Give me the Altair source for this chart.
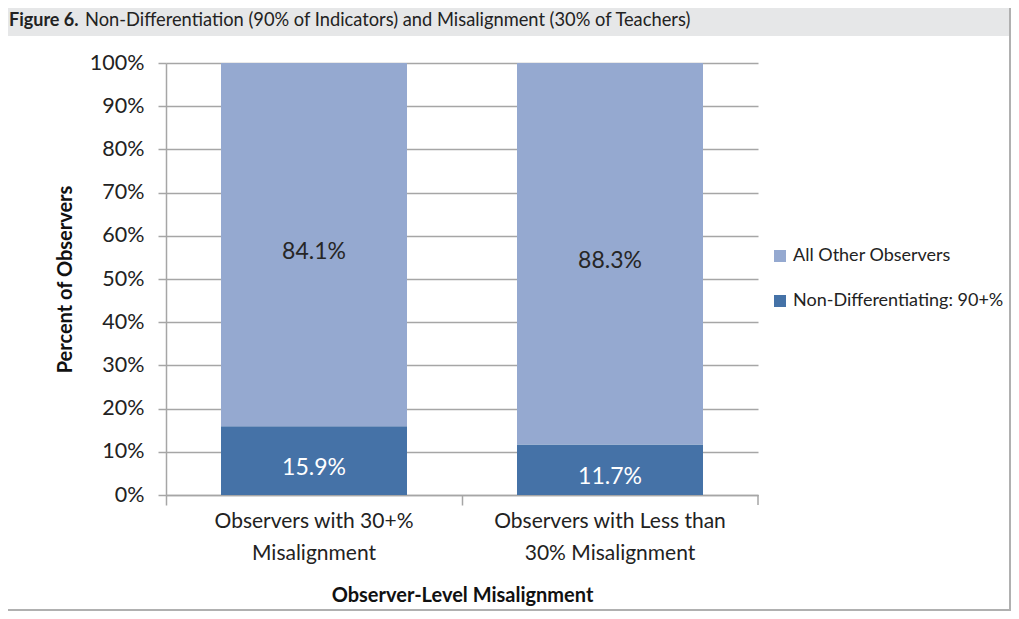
import altair as alt
import pandas as pd

categories = ["Observers with 30+%\nMisalignment", "Observers with Less than\n30% Misalignment"]
series = ["All Other Observers", "Non-Differentiating: 90+%"]
other_vals = [84.1, 88.3]
nondiff_vals = [15.9, 11.7]
colors = ["#95a9d0", "#4572a7"]
y_ticks = [0, 10, 20, 30, 40, 50, 60, 70, 80, 90, 100]

rows = []
for i, c in enumerate(categories):
    rows.append({"cat": c, "series": series[1], "value": nondiff_vals[i], "ord": 0})
    rows.append({"cat": c, "series": series[0], "value": other_vals[i], "ord": 1})
df = pd.DataFrame(rows)
one = pd.DataFrame({"k": [0]})

FONT = "Lato"
GRID = "#a6a6a6"
W, H = 592, 432
PL, PT = 158, 55
TOTW, TOTH = 1003, 603

x_enc = alt.X(
    "cat:N", sort=categories,
    scale=alt.Scale(paddingInner=0, paddingOuter=0),
    axis=alt.Axis(
        title="Observer-Level Misalignment", titleFont=FONT, titleFontSize=20,
        titleFontWeight="bold", titleColor="#111111",
        titleX=W / 2, titleY=100, titleBaseline="middle", titleAlign="center",
        labelExpr="split(datum.label, '\\n')", labelFont=FONT, labelFontSize=21,
        labelColor="#222222", labelLineHeight=32, labelAngle=0, labelPadding=5,
        labelBaseline="top", labelLimit=400,
        bandPosition=0, tickSize=10, tickColor=GRID, tickWidth=1.5,
        domainColor=GRID, domainWidth=1.5,
    ),
)
y_axis = alt.Axis(
    values=y_ticks, labelExpr="datum.value + '%'", labelFont=FONT, labelFontSize=21.5,
    labelColor="#222222", labelPadding=14, tickSize=8, tickColor=GRID, tickWidth=1.5,
    domainColor=GRID, domainWidth=1.5, grid=True, gridColor=GRID, gridWidth=1.5,
    title="Percent of Observers", titleFont=FONT, titleFontSize=20,
    titleFontWeight="bold", titleColor="#111111", titleAngle=-90,
    titleX=-101, titleY=H / 2, titleAlign="center", titleBaseline="middle",
)
y_scale = alt.Scale(domain=[0, 100], nice=False)

base = alt.Chart(df)

bars = base.mark_bar(size=186).encode(
    x=x_enc,
    y=alt.Y("value:Q", stack="zero", scale=y_scale, axis=y_axis),
    color=alt.Color(
        "series:N", scale=alt.Scale(domain=series, range=colors),
        legend=alt.Legend(
            title=None, orient="none", legendX=605, legendY=184,
            symbolType="square", symbolSize=144, symbolStrokeWidth=0,
            labelFont=FONT, labelFontSize=18, labelColor="#222222",
            rowPadding=27, labelOffset=4, labelLimit=400,
        ),
    ),
    order=alt.Order("ord:Q"),
)

labels = base.transform_stack(
    stack="value", groupby=["cat"], as_=["v0", "v1"], sort=[alt.SortField("ord")]
).transform_calculate(
    mid="(datum.v0 + datum.v1) / 2",
    lab="format(datum.value, '.1f') + '%'",
).mark_text(dy=7, font=FONT, fontSize=23, baseline="middle").encode(
    x=x_enc,
    y=alt.Y("mid:Q", scale=y_scale, axis=y_axis),
    text="lab:N",
    color=alt.condition(alt.datum.series == series[1], alt.value("white"), alt.value("#262626")),
)

end_tick = alt.Chart(one).mark_rule(color=GRID, strokeWidth=1.5).encode(
    x=alt.value(W), y=alt.value(H), y2=alt.value(H + 10)
)

title_bg = alt.Chart(one).mark_rect(color="#e6e7e8").encode(
    x=alt.value(-PL), x2=alt.value(TOTW - PL), y=alt.value(-PT), y2=alt.value(-PT + 28)
)
title_bold = alt.Chart(one).mark_text(
    text="Figure 6.", font=FONT, fontSize=18, fontWeight="bold", color="#222222",
    align="left", baseline="middle"
).encode(x=alt.value(-PL + 1), y=alt.value(-PT + 13))
title_rest = alt.Chart(one).mark_text(
    text="Non-Differentiation (90% of Indicators) and Misalignment (30% of Teachers)",
    font=FONT, fontSize=18.3, color="#222222", align="left", baseline="middle"
).encode(x=alt.value(85 - 166), y=alt.value(-PT + 13))

border_r = alt.Chart(one).mark_rule(color="#b0b0b0", strokeWidth=2).encode(
    x=alt.value(TOTW - PL - 1), y=alt.value(-PT), y2=alt.value(TOTH - PT)
)
border_b = alt.Chart(one).mark_rule(color="#b0b0b0", strokeWidth=2).encode(
    x=alt.value(-PL), x2=alt.value(TOTW - PL), y=alt.value(TOTH - PT - 1)
)

chart = alt.layer(
    title_bg, border_r, border_b, bars, labels, end_tick, title_bold, title_rest
).properties(
    width=W, height=H,
    autosize=alt.AutoSizeParams(type="none"),
    padding={"left": PL, "top": PT, "right": TOTW - PL - W, "bottom": TOTH - PT - H},
    background="white",
).configure_view(stroke=None)

chart.save("out.html", embed_options={"renderer": "svg", "actions": False})
